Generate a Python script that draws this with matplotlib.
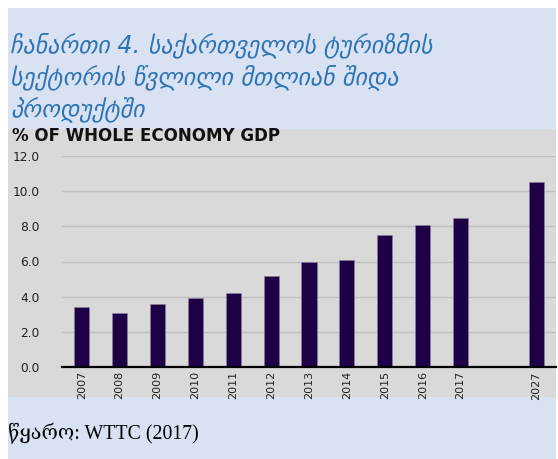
import matplotlib.pyplot as plt
from matplotlib.patches import Rectangle

years = ["2007", "2008", "2009", "2010", "2011", "2012", "2013",
         "2014", "2015", "2016", "2017", "2027"]
gdp_share = [3.4, 3.05, 3.6, 3.9, 4.2, 5.2, 6.0, 6.1, 7.5, 8.1, 8.5, 10.5]
# one empty slot before the 2027 forecast
positions = [0, 1, 2, 3, 4, 5, 6, 7, 8, 9, 10, 12]
yticks = [0, 2, 4, 6, 8, 10, 12]

title_lines = ["ჩანართი 4. საქართველოს ტურიზმის",
               "სექტორის წვლილი მთლიან შიდა",
               "პროდუქტში"]
source = "წყარო: WTTC (2017)"

W, H = 558, 459
fig = plt.figure(figsize=(W / 100, H / 100), dpi=100)
fig.patch.set_facecolor("white")


def px(x0, y0, x1, y1):
    # pixel box (top-left origin) -> figure fraction rect
    return [x0 / W, 1 - y1 / H, (x1 - x0) / W, (y1 - y0) / H]


# light blue page and grey chart panel
for box, col in [((8, 8, 556, 459), "#d9e2f3"), ((8, 129, 556, 397), "#d9d9d9")]:
    l, b, w, h = px(*box)
    fig.patches.append(Rectangle((l, b), w, h, transform=fig.transFigure,
                                 facecolor=col, edgecolor="none", zorder=-5))

for i, line in enumerate(title_lines):
    fig.text(10 / W, 1 - (52 + i * 32) / H, line, fontsize=17.2, style="italic",
             color="#2e74b5", family=["DejaVu Sans"], va="baseline")

fig.text(12 / W, 1 - 141 / H, "% OF WHOLE ECONOMY GDP", fontsize=12,
         fontweight="bold", color="#111111", va="baseline",
         family=["DejaVu Sans"])

fig.text(8 / W, 1 - 439 / H, source, fontsize=14.3, color="black",
         family=["Liberation Serif", "DejaVu Serif", "DejaVu Sans"], va="baseline")

ax = fig.add_axes(px(62, 156, 556, 367))
ax.set_facecolor("none")
ax.bar(positions, gdp_share, width=0.4, color="#1e0047",
       edgecolor="#8a80a0", linewidth=0.5, zorder=3)

ax.set_xlim(-0.52, 12.52)
ax.set_ylim(0, 12)
ax.set_yticks(yticks)
ax.set_yticklabels([f"{v:.1f}" for v in yticks], fontsize=8.8, color="#222222")
ax.set_xticks(positions)
ax.set_xticklabels(years, rotation=90, fontsize=8, color="#222222",
                   family=["Liberation Sans Narrow", "DejaVu Sans"])
ax.tick_params(axis="both", length=0)
ax.tick_params(axis="y", pad=16)
ax.tick_params(axis="x", pad=3)
ax.grid(axis="y", color="#bfbfbf", linewidth=1.0, zorder=1)
for side in ["top", "right", "left"]:
    ax.spines[side].set_visible(False)
ax.spines["bottom"].set_color("black")
ax.spines["bottom"].set_linewidth(1.6)
ax.spines["bottom"].set_zorder(4)

fig.savefig("out.png", dpi=100)
